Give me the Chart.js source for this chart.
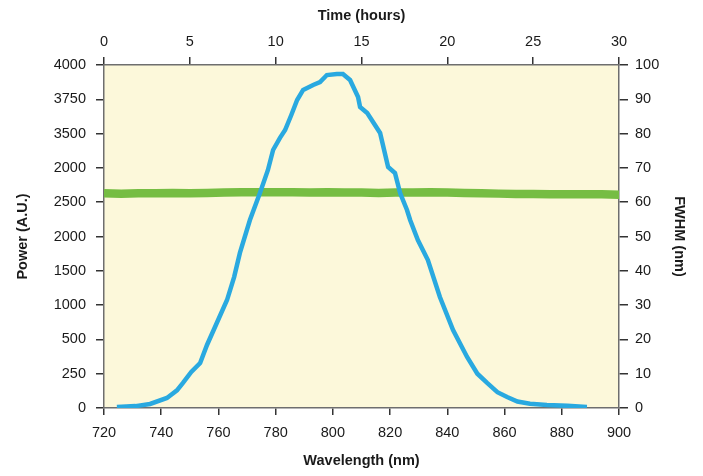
<!DOCTYPE html>
<html>
<head>
<meta charset="utf-8">
<script src="https://cdn.jsdelivr.net/npm/chart.js@4"></script>
<style>
	body { margin: 0; background: #fff; }
	canvas { display: block; }
</style>
</head>
<body>
<canvas id="resultChart" width="703" height="476"></canvas>
<script>
// spectrum (blue), wavelength in nm -> power in A.U.
const wavelengths = [724.5, 731.0, 736.1, 742.0, 745.5, 747.6, 750.5, 753.6, 756.0, 758.8, 763.0, 765.5, 767.5, 771.0, 774.5, 777.3, 779.1, 781.5, 783.3, 785.5, 787.5, 789.6, 793.1, 795.5, 797.9, 801.4, 803.5, 806.0, 808.8, 809.5, 812.0, 816.5, 819.3, 821.7, 823.5, 825.9, 827.0, 829.7, 833.2, 837.4, 842.0, 846.9, 850.5, 853.9, 857.5, 860.9, 864.5, 868.9, 874.8, 882.0, 888.8];
const powers = [12, 22, 47, 117, 205, 292, 420, 525, 735, 945, 1259, 1530, 1808, 2192, 2507, 2776, 3009, 3150, 3242, 3420, 3592, 3709, 3767, 3800, 3883, 3895, 3895, 3825, 3627, 3510, 3440, 3207, 2811, 2741, 2507, 2309, 2192, 1959, 1726, 1294, 910, 595, 400, 292, 185, 128, 75, 50, 35, 25, 12];

// FWHM over time (green)
const hours = [0, 1, 2, 3, 4, 5, 6, 7, 8, 9, 10, 11, 12, 13, 14, 15, 16, 17, 18, 19, 20, 21, 22, 23, 24, 25, 26, 27, 28, 29, 30];
const fwhm = [62.6, 62.5, 62.6, 62.6, 62.7, 62.6, 62.7, 62.8, 62.9, 62.9, 62.9, 62.9, 62.8, 62.9, 62.8, 62.8, 62.7, 62.8, 62.8, 62.9, 62.8, 62.7, 62.6, 62.5, 62.4, 62.4, 62.3, 62.3, 62.3, 62.3, 62.2];

// left axis labels as printed in the figure
const powerTickLabels = ['0', '250', '500', '1000', '1500', '2000', '2500', '2000', '3500', '3750', '4000'];

const FONT = '"Liberation Sans", Arial, sans-serif';
const tickFont = { family: FONT, size: 14.5 };
const titleFont = { family: FONT, size: 14.5, weight: 'bold' };
const axisLine = { display: true, color: '#6e6e6e', width: 1.5 };

const plotBg = {
	id: 'plotBg',
	beforeDraw(chart) {
		const { ctx, chartArea: a } = chart;
		ctx.save();
		ctx.fillStyle = '#fcf8da';
		ctx.fillRect(a.left, a.top, a.right - a.left, a.bottom - a.top);
		ctx.restore();
	}
};

const grid = len => ({ drawOnChartArea: false, drawTicks: true, tickLength: len, color: '#333', lineWidth: 1.5 });

new Chart(document.getElementById('resultChart').getContext('2d'), {
	type: 'line',
	data: {
		datasets: [
			{
				label: 'Power',
				data: wavelengths.map((w, i) => ({ x: w, y: powers[i] })),
				xAxisID: 'x',
				yAxisID: 'y',
				borderColor: '#29a9e0',
				borderWidth: 4.5,
				pointRadius: 0,
				fill: false,
				tension: 0
			},
			{
				label: 'FWHM',
				data: hours.map((h, i) => ({ x: h, y: fwhm[i] })),
				xAxisID: 'x2',
				yAxisID: 'y2',
				borderColor: '#76bd43',
				borderWidth: 8.5,
				borderCapStyle: 'round',
				pointRadius: 0,
				fill: false,
				tension: 0
			}
		]
	},
	options: {
		responsive: false,
		animation: false,
		layout: { padding: 0 },
		plugins: { legend: { display: false }, tooltip: { enabled: false } },
		scales: {
			x: {
				type: 'linear', position: 'bottom', min: 720, max: 900,
				afterFit: s => { s.height = 68; },
				ticks: { stepSize: 20, font: tickFont, color: '#1a1a1a', padding: 9, maxRotation: 0 },
				grid: grid(7), border: axisLine,
				title: { display: true, text: 'Wavelength (nm)', font: titleFont, color: '#1a1a1a', padding: { top: 0, bottom: 6 } }
			},
			x2: {
				type: 'linear', position: 'top', min: 0, max: 30,
				afterFit: s => { s.height = 65; },
				ticks: { stepSize: 5, font: tickFont, color: '#1a1a1a', padding: 6, maxRotation: 0 },
				grid: grid(8), border: axisLine,
				title: { display: true, text: 'Time (hours)', font: titleFont, color: '#1a1a1a', padding: { top: 7, bottom: 0 } }
			},
			y: {
				type: 'linear', position: 'left', min: 0, max: 4000,
				afterFit: s => { s.width = 104; },
				ticks: { stepSize: 400, font: tickFont, color: '#1a1a1a', padding: 10, callback: (v, i) => powerTickLabels[i] },
				grid: grid(8), border: axisLine,
				title: { display: true, text: 'Power (A.U.)', font: titleFont, color: '#1a1a1a', padding: { top: 14, bottom: 0 } }
			},
			y2: {
				type: 'linear', position: 'right', min: 0, max: 100,
				afterFit: s => { s.width = 84; },
				ticks: { stepSize: 10, font: tickFont, color: '#1a1a1a', padding: 7 },
				grid: grid(9), border: axisLine,
				title: { display: true, text: 'FWHM (nm)', font: titleFont, color: '#1a1a1a', padding: { top: 15, bottom: 0 } }
			}
		}
	},
	plugins: [plotBg]
});
</script>
</body>
</html>
